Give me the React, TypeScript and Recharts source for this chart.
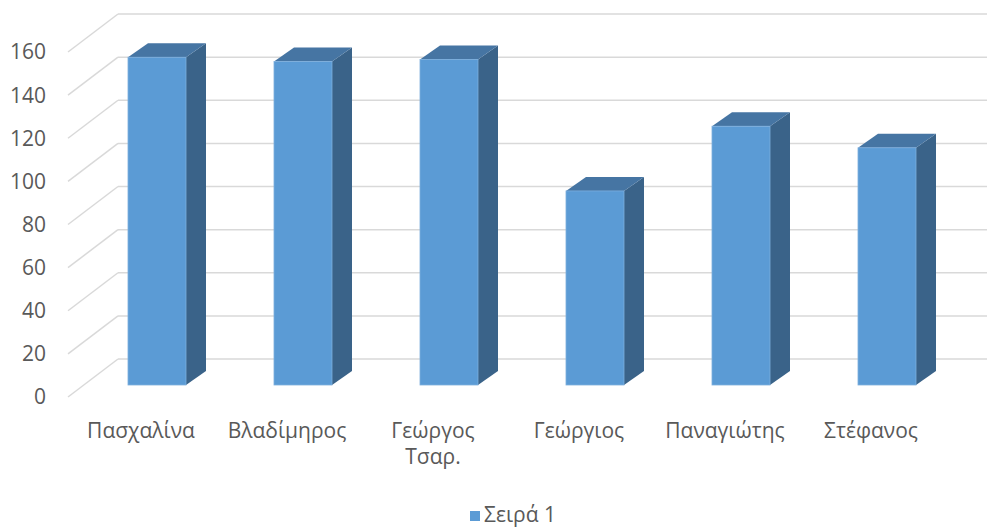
import { BarChart, Bar, XAxis, YAxis, CartesianGrid, Legend } from 'recharts'

const names = ['Πασχαλίνα', 'Βλαδίμηρος', 'Γεώργος Τσαρ.', 'Γεώργιος', 'Παναγιώτης', 'Στέφανος']
const values = [152, 150, 151, 90, 120, 110]
const yTicks = [0, 20, 40, 60, 80, 100, 120, 140, 160]

const data = names.map((name, i) => ({ name, value: values[i] }))

const FONT = '"Open Sans", "Noto Sans", sans-serif'
const TEXT = '#595959'

// wall depth (front edge -> back wall) and bar placement inside it
const WALL_DX = 50
const WALL_DY = 38
const BAR_SHIFT_X = 16
const BAR_SHIFT_Y = 12
const BAR_DX = 20
const BAR_DY = 14

const GridLine = (props: any) => {
  const { x1, y1 } = props
  const bx = x1 + WALL_DX
  const by = y1 - WALL_DY
  return (
    <g>
      <line x1={x1} y1={y1} x2={bx} y2={by} stroke="#D9D9D9" strokeWidth={1.5} />
      <line x1={bx} y1={by} x2={987} y2={by} stroke="#D9D9D9" strokeWidth={1.5} />
    </g>
  )
}

const Bar3D = (props: any) => {
  const { x, y, width, height } = props
  const fx = x + BAR_SHIFT_X
  const fy = y - BAR_SHIFT_Y
  const r = fx + width
  const b = fy + height
  const top = `${fx},${fy} ${fx + BAR_DX},${fy - BAR_DY} ${r + BAR_DX},${fy - BAR_DY} ${r},${fy}`
  const side = `${r},${fy} ${r + BAR_DX},${fy - BAR_DY} ${r + BAR_DX},${b - BAR_DY} ${r},${b}`
  return (
    <g>
      <polygon points={side} fill="#3A6389" />
      <polygon points={top} fill="#4675A3" />
      <rect x={fx} y={fy} width={width} height={height} fill="#5B9BD5" stroke="#7DAEDD" strokeWidth={0.8} />
    </g>
  )
}

const CategoryTick = (props: any) => {
  const { x, y, payload } = props
  const lines = String(payload.value).split(' ')
  return (
    <text x={x} y={y + 41} textAnchor="middle" fill={TEXT} fontFamily={FONT} fontSize={21}>
      {lines.map((l, i) => (
        <tspan key={i} x={x} dy={i === 0 ? 0 : 26}>
          {l}
        </tspan>
      ))}
    </text>
  )
}

export default function App() {
  return (
    <div style={{ position: 'absolute', left: 0, top: 0, background: '#fff' }}>
      <BarChart width={987} height={529} data={data} margin={{ top: 52, right: 43, bottom: 72, left: 8 }}>
        <CartesianGrid vertical={false} horizontal={GridLine} fill="none" />
        <XAxis
          dataKey="name"
          axisLine={false}
          tickLine={false}
          tickSize={0}
          tickMargin={0}
          height={60}
          interval={0}
          tick={CategoryTick}
        />
        <YAxis
          domain={[0, 160]}
          ticks={yTicks}
          width={60}
          axisLine={false}
          tickLine={false}
          tickSize={0}
          tickMargin={22}
          tick={{ fill: TEXT, fontSize: 21, fontFamily: FONT }}
        />
        <Legend
          verticalAlign="middle"
          iconType="square"
          iconSize={10}
          wrapperStyle={{ top: 500, left: 470, width: 'auto', fontFamily: FONT, fontSize: 21 }}
          formatter={(v: any) => <span style={{ color: TEXT }}>{v}</span>}
        />
        <Bar dataKey="value" name="Σειρά 1" fill="#5B9BD5" barSize={58} shape={Bar3D} isAnimationActive={false} />
      </BarChart>
    </div>
  )
}
